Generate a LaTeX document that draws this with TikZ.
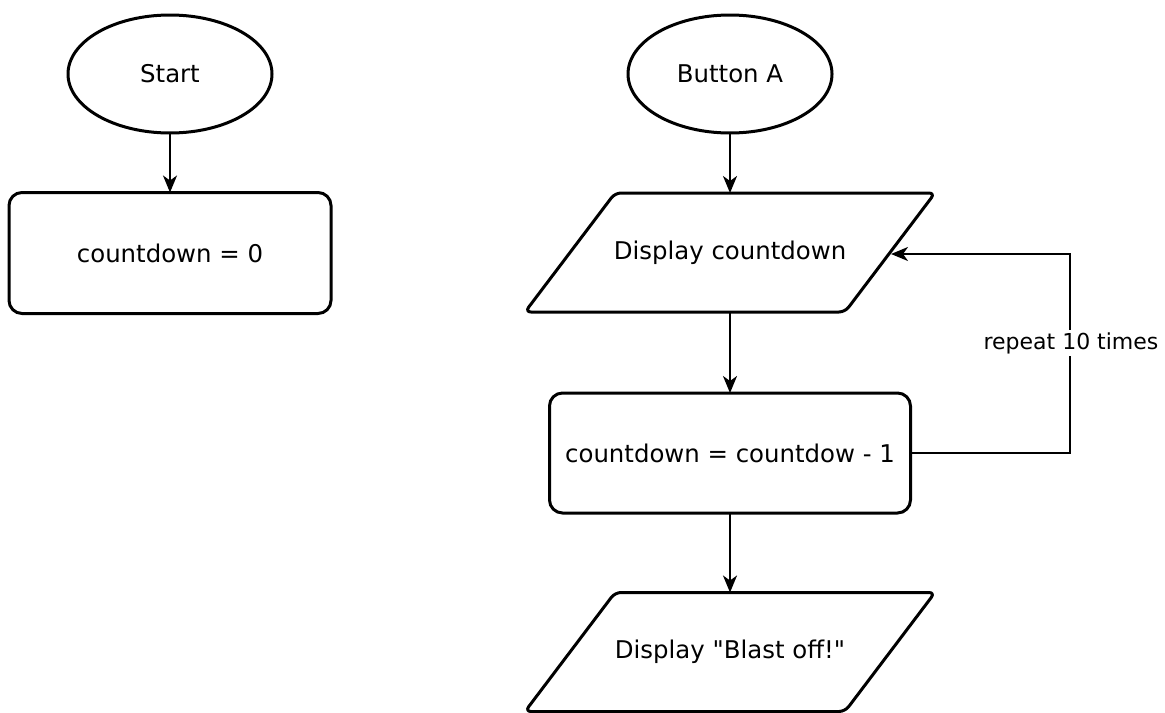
\documentclass[tikz,border=0pt]{standalone}
\usepackage{fontspec}
\setmainfont{DejaVu Sans}[Ligatures=TeXOff]
\usetikzlibrary{arrows.meta,shapes.geometric}
\begin{document}
\begin{tikzpicture}[x=0.5pt,y=-0.5pt,
  every node/.style={font=\fontsize{12.2}{14}\selectfont, inner sep=0pt, outer sep=0pt},
  shapeline/.style={line width=1.5pt, line join=round},
  term/.style={ellipse, draw, shapeline, minimum width=102pt, minimum height=59pt},
  procbox/.style={rectangle, draw, shapeline, rounded corners=6.5pt},
  paranode/.style={rectangle, draw=none, minimum width=205pt, minimum height=59.5pt},
  conn/.style={line width=1pt, -{Stealth[length=8.5pt,width=7pt,inset=2.5pt]}},
  lbl/.style={fill=white, font=\fontsize{11}{13}\selectfont, inner sep=1pt}
]
\useasboundingbox (0,0) rectangle (1165,712);

% left column
\node[term] (start) at (170,74) {Start};
\node[procbox, minimum width=161pt, minimum height=60.5pt] (init) at (170,253) {countdown = 0};
\draw[conn] (start) -- (init);

% right column
\node[term] (btnA) at (730,74) {Button A};
\node[paranode] (disp1) at (730,252.5) {Display countdown};
\node[procbox, minimum width=180.5pt, minimum height=60pt] (dec) at (730,453) {countdown = countdow - 1};
\node[paranode] (disp2) at (730,652) {Display "Blast off!"};

\foreach \n in {disp1,disp2}{
  \draw[shapeline, rounded corners=3pt]
    ([xshift=45pt]\n.north west) -- (\n.north east) --
    ([xshift=-45pt]\n.south east) -- (\n.south west) -- cycle;
}

\coordinate (d1r) at (891,254);
\coordinate (loopx) at (1070,0);

\draw[conn] (btnA) -- (disp1);
\draw[conn] (disp1) -- (dec);
\draw[conn] (dec) -- (disp2);
\draw[conn] (dec.east) -- (dec.east -| loopx) -- (loopx |- d1r) -- (d1r);
\node[lbl] (rep) at (1071,343) {repeat 10 times};
\end{tikzpicture}
\end{document}
